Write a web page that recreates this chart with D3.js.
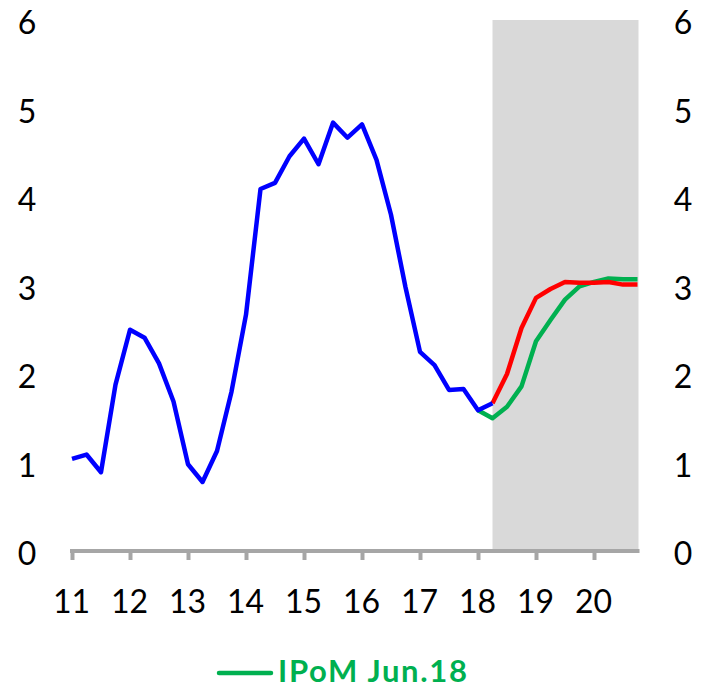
<!DOCTYPE html>
<html><head><meta charset="utf-8">
<script src="https://cdn.jsdelivr.net/npm/d3@7"></script>
<style>body{margin:0;background:#fff}svg{display:block}</style>
</head><body>
<script>
// quarterly data, first point = 2011Q1
const blueStart = 2011;
const blueValues = [1.04,1.09,0.89,1.88,2.50,2.41,2.12,1.69,0.98,0.78,1.13,1.80,2.67,4.09,4.16,4.46,4.66,4.37,4.84,4.67,4.82,4.42,3.80,2.98,2.25,2.10,1.82,1.83,1.59,1.67];
const redStart = 2018.25;
const redValues = [1.67,2.00,2.52,2.86,2.96,3.04,3.03,3.03,3.04,3.01,3.01];
const greenStart = 2018;
const greenValues = [1.59,1.50,1.63,1.86,2.37,2.61,2.84,2.99,3.04,3.08,3.07,3.07];
const xTickYears = [2011,2012,2013,2014,2015,2016,2017,2018,2019,2020];
const xTickLabels = ["11","12","13","14","15","16","17","18","19","20"];
const yTicks = [0,1,2,3,4,5,6];
const shadeRange = [2018.25, 2020.75];
const legendLabel = "IPoM Jun.18";

const W = 704, H = 688;
const svg = d3.select("body").append("svg").attr("width", W).attr("height", H);
const x = d3.scaleLinear().domain([2011, 2021]).range([72, 652]);
const y = d3.scaleLinear().domain([0, 6]).range([551, 20]);
const font = "Lato, 'Liberation Sans', sans-serif";

svg.append("rect")
  .attr("x", x(shadeRange[0])).attr("y", y(6))
  .attr("width", x(shadeRange[1]) - x(shadeRange[0]) + 1)
  .attr("height", y(0) - y(6))
  .attr("fill", "#d9d9d9");

// x axis
const xAxis = d3.axisBottom(x).tickValues(xTickYears).tickSize(9).tickFormat("");
const gx = svg.append("g").attr("transform", `translate(0,${y(0)})`).call(xAxis);
gx.select(".domain").remove();
gx.selectAll(".tick line").attr("stroke", "#a6a6a6").attr("stroke-width", 4);
svg.append("line").attr("x1", x(2011) - 2).attr("x2", x(2020.75) + 2)
  .attr("y1", y(0)).attr("y2", y(0)).attr("stroke", "#a6a6a6").attr("stroke-width", 4);

svg.selectAll(".xl").data(xTickYears).join("text")
  .attr("x", d => x(d) - 0.5).attr("y", 613)
  .attr("text-anchor", "middle").attr("font-family", font).attr("font-size", 32)
  .attr("fill", "#000").text((d, i) => xTickLabels[i]);

// y labels both sides
[27, 683].forEach(px => {
  svg.selectAll(null).data(yTicks).join("text")
    .attr("x", px).attr("y", d => y(d) + 14)
    .attr("text-anchor", "middle").attr("font-family", font).attr("font-size", 32)
    .attr("fill", "#000").text(d => d);
});

const line = d3.line().x(d => x(d[0])).y(d => y(d[1]));
function series(start, vals, color) {
  const pts = vals.map((v, i) => [start + i / 4, v]);
  svg.append("path").attr("d", line(pts)).attr("fill", "none")
    .attr("stroke", color).attr("stroke-width", 4.5).attr("stroke-linejoin", "round");
}
series(greenStart, greenValues, "#00b050");
series(redStart, redValues, "#ff0000");
series(blueStart, blueValues, "#0000ff");

// legend
svg.append("line").attr("x1", 219).attr("x2", 271).attr("y1", 673).attr("y2", 673)
  .attr("stroke", "#00b050").attr("stroke-width", 4.5).attr("stroke-linecap", "round");
svg.append("text").attr("x", 278).attr("y", 682).attr("font-family", font)
  .attr("font-weight", "bold").attr("font-size", 31).attr("fill", "#00b050")
  .attr("textLength", 189).attr("lengthAdjust", "spacing")
  .text(legendLabel);
</script>
</body></html>
